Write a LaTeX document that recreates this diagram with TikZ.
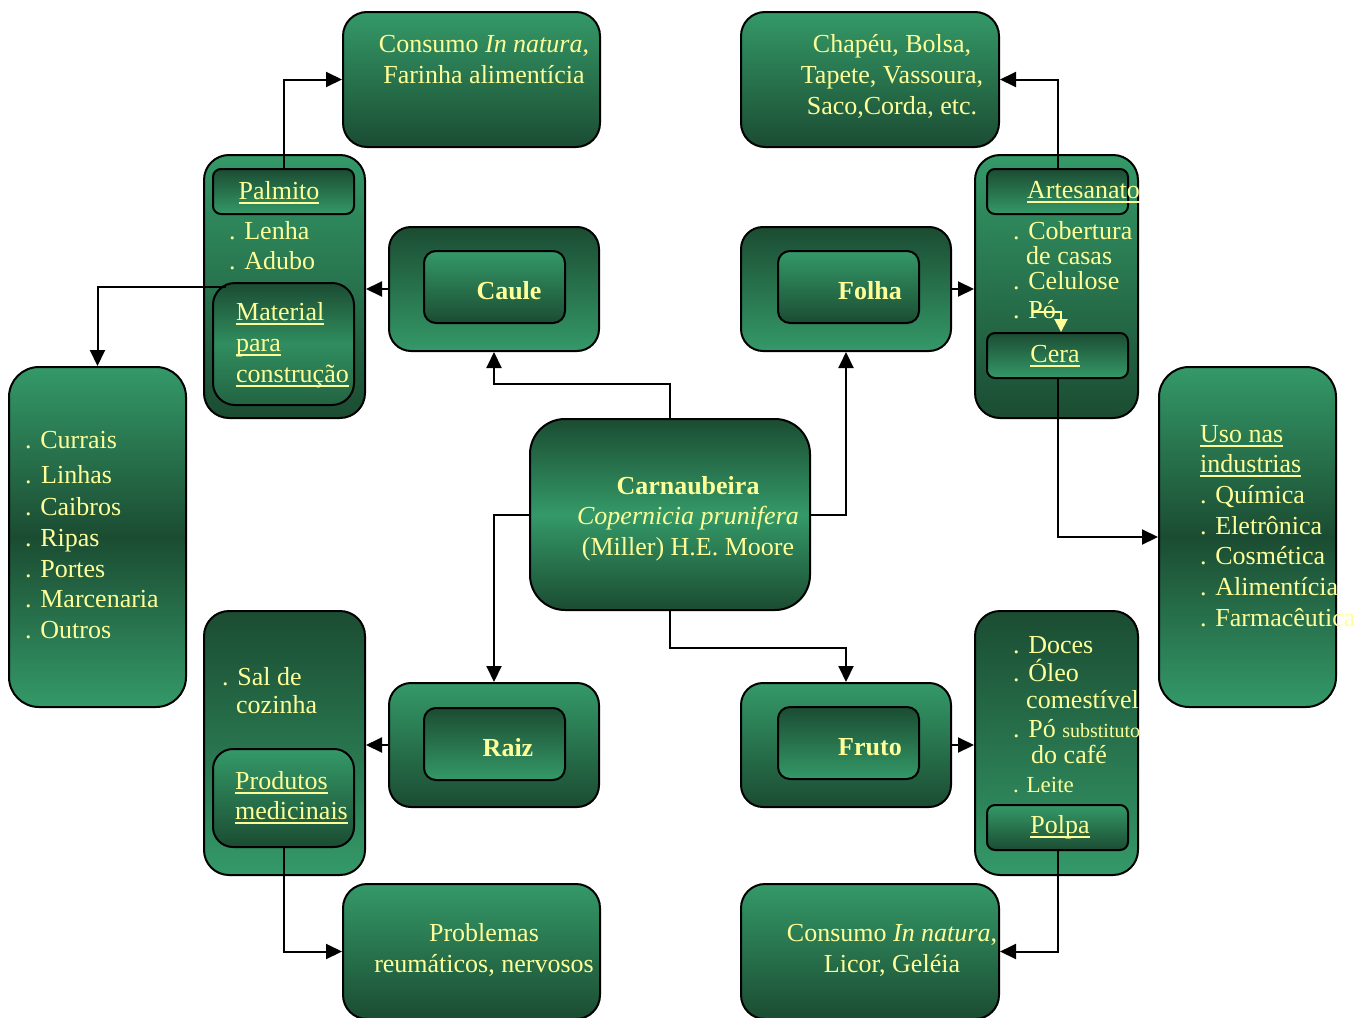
\documentclass[tikz,border=0pt]{standalone}
\usepackage{fontspec}
\setmainfont{Liberation Serif}
\usetikzlibrary{arrows.meta,calc}
\definecolor{lg}{RGB}{52,153,104}
\definecolor{dg}{RGB}{27,76,50}
\definecolor{yel}{RGB}{255,255,153}
\newcommand\fs{\fontsize{26}{31}\selectfont}
\newcommand\uln[1]{\setbox0\hbox{#1}\rlap{\rule[-4.5pt]{\wd0}{1.8pt}}\box0}
\tikzset{
  box/.style={draw=black, line width=2pt, rectangle, inner sep=0pt},
  LD/.style={top color=lg, bottom color=dg},
  DL/.style={top color=dg, bottom color=lg},
  DLD/.style={top color=dg, bottom color=dg, middle color=lg},
  LDL/.style={top color=lg, bottom color=lg, middle color=dg},
  txt/.style={text=yel, inner sep=0pt, font=\fs},
  conn/.style={draw=black, line width=2pt, -{Triangle[length=16pt,width=15pt]}},
  yconn/.style={draw=yel, line width=2pt, -{Triangle[length=13pt,width=13pt]}},
}
\begin{document}
\begin{tikzpicture}[x=1pt,y=-1pt]
\useasboundingbox (0,0) rectangle (1372,1017);
\fill[white] (0,0) rectangle (1372,1017);
\clip (0,0) rectangle (1372,1017);

% corner boxes
\node[box, LD, rounded corners=24pt, minimum width=257pt, minimum height=135pt] (consumo) at (471.5,79.5) {};
\node[box, LD, rounded corners=24pt, minimum width=258pt, minimum height=135pt] (chapeu) at (870,79.5) {};
\node[box, LD, rounded corners=24pt, minimum width=257pt, minimum height=135pt] (problemas) at (471.5,951.5) {};
\node[box, LD, rounded corners=24pt, minimum width=258pt, minimum height=135pt] (licor) at (870,951.5) {};

% side boxes
\node[box, LDL, rounded corners=30pt, minimum width=177pt, minimum height=340pt] (currais) at (97.5,537) {};
\node[box, LDL, rounded corners=30pt, minimum width=177pt, minimum height=340pt] (uso) at (1247.5,537) {};

% centre
\node[box, DLD, rounded corners=35pt, minimum width=280pt, minimum height=191pt] (carn) at (670,514.5) {};

% containers
\node[box, LD, rounded corners=25pt, minimum width=161pt, minimum height=263pt] (palmC) at (284.5,286.5) {};
\node[box, LD, rounded corners=25pt, minimum width=163pt, minimum height=263pt] (artC) at (1056.5,286.5) {};
\node[box, DL, rounded corners=25pt, minimum width=161pt, minimum height=264pt] (salC) at (284.5,743) {};
\node[box, DL, rounded corners=25pt, minimum width=163pt, minimum height=264pt] (docesC) at (1056.5,743) {};

% inner boxes of containers
\node[box, DL, rounded corners=8pt, minimum width=141pt, minimum height=45pt] (palmito) at (283.5,191.5) {};
\node[box, top color=dg, bottom color=dg!70!lg, middle color=lg!85!dg, rounded corners=22pt, minimum width=141pt, minimum height=122pt] (material) at (283.5,344) {};
\node[box, DL, rounded corners=8pt, minimum width=141pt, minimum height=45pt] (artesanato) at (1057.5,191.5) {};
\node[box, DL, rounded corners=8pt, minimum width=141pt, minimum height=45pt] (cera) at (1057.5,355.5) {};
\node[box, LD, rounded corners=20pt, minimum width=141pt, minimum height=98pt] (produtos) at (283.5,798) {};
\node[box, LD, rounded corners=8pt, minimum width=141pt, minimum height=45pt] (polpa) at (1057.5,827.5) {};

% part boxes
\node[box, DL, rounded corners=22pt, minimum width=210pt, minimum height=124pt] (cauleO) at (494,289) {};
\node[box, LD, rounded corners=12pt, minimum width=141pt, minimum height=72pt] (cauleI) at (494.5,287) {};
\node[box, DL, rounded corners=22pt, minimum width=210pt, minimum height=124pt] (folhaO) at (846,289) {};
\node[box, LD, rounded corners=12pt, minimum width=141pt, minimum height=72pt] (folhaI) at (848.5,287) {};
\node[box, LD, rounded corners=22pt, minimum width=210pt, minimum height=124pt] (raizO) at (494,745) {};
\node[box, DL, rounded corners=12pt, minimum width=141pt, minimum height=72pt] (raizI) at (494.5,744) {};
\node[box, LD, rounded corners=22pt, minimum width=210pt, minimum height=124pt] (frutoO) at (846,745) {};
\node[box, DL, rounded corners=12pt, minimum width=141pt, minimum height=72pt] (frutoI) at (848.5,743) {};

% texts: corner boxes
\node[txt, anchor=base] (c1) at (484,52) {Consumo \textit{In natura},};
\node[txt, anchor=base] (c2) at (484,83) {Farinha alimentícia};
\node[txt, anchor=base] (h1) at (892,52) {Chapéu, Bolsa,};
\node[txt, anchor=base] (h2) at (892,83) {Tapete, Vassoura,};
\node[txt, anchor=base] (h3) at (892,114) {Saco,Corda, etc.};
\node[txt, anchor=base] (p1) at (484,941) {Problemas};
\node[txt, anchor=base] (p2) at (484,972) {reumáticos, nervosos};
\node[txt, anchor=base] (l1) at (892,941) {Consumo \textit{In natura},};
\node[txt, anchor=base] (l2) at (892,972) {Licor, Geléia};

% palmito container
\node[txt, anchor=base] (tpalm) at (279,199) {\uln{Palmito}};
\node[txt, anchor=base west] (tlen) at (229,239) {. Lenha};
\node[txt, anchor=base west] (tadu) at (229,269) {. Adubo};
\node[txt, anchor=base west] (tmat1) at (236,320) {\uln{Material}};
\node[txt, anchor=base west] (tmat2) at (236,351) {\uln{para}};
\node[txt, anchor=base west] (tmat3) at (236,382) {\uln{construção}};

% artesanato container
\node[txt, anchor=base west] (tart) at (1027,198) {\uln{Artesanato}};
\node[txt, anchor=base west] (tcob) at (1013,239) {. Cobertura};
\node[txt, anchor=base west] (tcas) at (1026,264) {de casas};
\node[txt, anchor=base west] (tcel) at (1013,289) {. Celulose};
\node[txt, anchor=base west] (tpo) at (1013,318) {. Pó};
\node[txt, anchor=base] (tcera) at (1055,362) {\uln{Cera}};

% part labels
\node[txt, anchor=base] (tcaule) at (509,299) {\textbf{Caule}};
\node[txt, anchor=base] (tfolha) at (870,299) {\textbf{Folha}};
\node[txt, anchor=base] (traiz) at (508,756) {\textbf{Raiz}};
\node[txt, anchor=base] (tfruto) at (870,755) {\textbf{Fruto}};

% centre text
\node[txt, anchor=base] (k1) at (688,494) {\textbf{Carnaubeira}};
\node[txt, anchor=base] (k2) at (688,524) {\textit{Copernicia prunifera}};
\node[txt, anchor=base] (k3) at (688,555) {(Miller) H.E. Moore};

% currais
\node[txt, anchor=base west] (r1) at (25,448) {. Currais};
\node[txt, anchor=base west] (r2) at (25,483) {.\ \kern3pt Linhas};
\node[txt, anchor=base west] (r3) at (25,515) {. Caibros};
\node[txt, anchor=base west] (r4) at (25,546) {. Ripas};
\node[txt, anchor=base west] (r5) at (25,577) {. Portes};
\node[txt, anchor=base west] (r6) at (25,607) {. Marcenaria};
\node[txt, anchor=base west] (r7) at (25,638) {. Outros};

% uso
\node[txt, anchor=base west] (u1) at (1200,442) {\uln{Uso nas}};
\node[txt, anchor=base west] (u2) at (1200,472) {\uln{industrias}};
\node[txt, anchor=base west] (u3) at (1200,503) {. Química};
\node[txt, anchor=base west] (u4) at (1200,534) {. Eletrônica};
\node[txt, anchor=base west] (u5) at (1200,564) {. Cosmética};
\node[txt, anchor=base west] (u6) at (1200,595) {. Alimentícia};
\node[txt, anchor=base west] (u7) at (1200,626) {. Farmacêutica};

% sal container
\node[txt, anchor=base west] (s1) at (222,685) {. Sal de};
\node[txt, anchor=base west] (s2) at (236,713) {cozinha};
\node[txt, anchor=base west] (s3) at (235,789) {\uln{Produtos}};
\node[txt, anchor=base west] (s4) at (235,819) {\uln{medicinais}};

% doces container
\node[txt, anchor=base west] (d1) at (1013,653) {. Doces};
\node[txt, anchor=base west] (d2) at (1013,681) {. Óleo};
\node[txt, anchor=base west] (d3) at (1026,708) {comestível};
\node[txt, anchor=base west] (d4) at (1013,737) {. Pó {\fontsize{20}{24}\selectfont substituto}};
\node[txt, anchor=base west] (d5) at (1031,763) {do café};
\node[txt, anchor=base west] (d6) at (1013,792) {\fontsize{23}{28}\selectfont . Leite};
\node[txt, anchor=base] (tpolpa) at (1060,833) {\uln{Polpa}};

% connectors
\coordinate (mA) at (226,287);
\coordinate (pA) at (1033,312);
\draw[conn] (carn.north) -- ++(0,-34) -| (cauleO.south);
\draw[conn] (carn.east) -| (folhaO.south);
\draw[conn] (carn.west) -| (raizO.north);
\draw[conn] (carn.south) -- ++(0,37) -| (frutoO.north);
\draw[conn] (cauleO.west) -- (cauleO.west -| palmC.east);
\draw[conn] (folhaO.east) -- (folhaO.east -| artC.west);
\draw[conn] (raizO.west) -- (raizO.west -| salC.east);
\draw[conn] (frutoO.east) -- (frutoO.east -| docesC.west);
\draw[conn] (palmito.north) |- (consumo.west);
\draw[conn] (artesanato.north) |- (chapeu.east);
\draw[conn] (mA) -| (currais.north);
\draw[conn] (cera.south) |- (uso.west);
\draw[conn] (produtos.south) |- (problemas.west);
\draw[conn] (polpa.south) |- (licor.east);
\draw[yconn] (pA) -| ([xshift=3.5pt]cera.north);
\end{tikzpicture}
\end{document}
